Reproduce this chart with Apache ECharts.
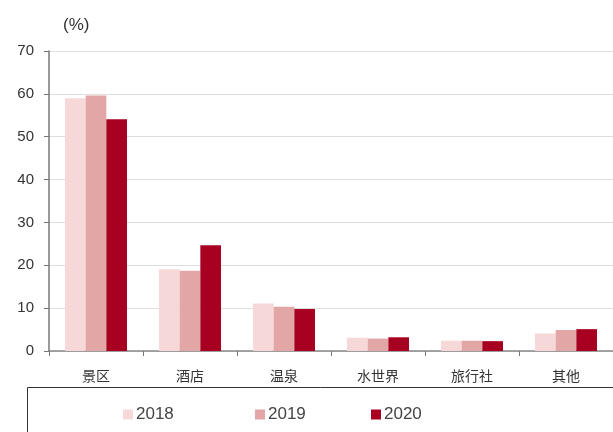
<!DOCTYPE html>
<html>
<head>
<meta charset="utf-8">
<script src="https://cdn.jsdelivr.net/npm/echarts@6/dist/echarts.min.js"></script>
<style>
  html, body { margin: 0; padding: 0; background: #fff; }
  #chart { width: 613px; height: 432px; }
</style>
</head>
<body>
<div id="chart"></div>
<script>
// Share of revenue by business type (%)
const categories = ['景区', '酒店', '温泉', '水世界', '旅行社', '其他'];
const years = ['2018', '2019', '2020'];
const values2018 = [59.0, 19.1, 11.1, 3.1, 2.4, 4.1];
const values2019 = [59.6, 18.7, 10.3, 2.9, 2.4, 4.9];
const values2020 = [54.1, 24.7, 9.8, 3.2, 2.3, 5.1];
const yTicks = [0, 10, 20, 30, 40, 50, 60, 70];

const colors = ['#f7d8d8', '#e3a6a6', '#a80020'];
const seriesValues = [values2018, values2019, values2020];

const chart = echarts.init(document.getElementById('chart'), null, { renderer: 'canvas' });

const legendLefts = [118, 250, 366];

chart.setOption({
  animation: false,
  backgroundColor: '#ffffff',
  title: {
    text: '(%)',
    left: 58,
    top: 12,
    textStyle: { fontFamily: 'Liberation Sans, Arial, sans-serif', fontSize: 17, fontWeight: 'normal', color: '#333' }
  },
  graphic: [{
    type: 'rect',
    shape: { x: 27.5, y: 387.5, width: 600, height: 60 },
    style: { fill: 'none', stroke: '#333', lineWidth: 1 },
    silent: true
  }],
  legend: years.map((y, i) => ({
    data: [y],
    left: legendLefts[i],
    top: 401,
    itemWidth: 10,
    itemHeight: 10,
    itemGap: 4,
    icon: 'rect',
    textStyle: { fontFamily: 'Liberation Sans, Arial, sans-serif', fontSize: 17, color: '#444', padding: [0, 0, 0, -2] }
  })),
  grid: { left: 49, right: -2, top: 51, bottom: 81, containLabel: false },
  xAxis: {
    type: 'category',
    data: categories,
    boundaryGap: true,
    axisLine: { lineStyle: { color: '#888', width: 1.5 } },
    axisTick: { show: true, length: 5, lineStyle: { color: '#777' } },
    axisLabel: {
      margin: 18,
      fontFamily: 'Noto Sans CJK SC',
      fontSize: 14,
      color: '#333'
    },
    splitLine: { show: false }
  },
  yAxis: {
    type: 'value',
    min: yTicks[0],
    max: yTicks[yTicks.length - 1],
    interval: 10,
    axisLine: { show: true, lineStyle: { color: '#777', width: 1.5 } },
    axisTick: { show: true, length: 5, inside: false, lineStyle: { color: '#777' } },
    axisLabel: {
      margin: 15,
      fontFamily: 'Liberation Sans, Arial, sans-serif',
      fontSize: 15,
      color: '#333'
    },
    splitLine: { show: true, lineStyle: { color: '#dedede', width: 1 } }
  },
  series: years.map((y, i) => ({
    name: y,
    type: 'bar',
    data: seriesValues[i],
    barGap: '0%',
    barCategoryGap: '34%',
    itemStyle: { color: colors[i] }
  }))
});
</script>
</body>
</html>
